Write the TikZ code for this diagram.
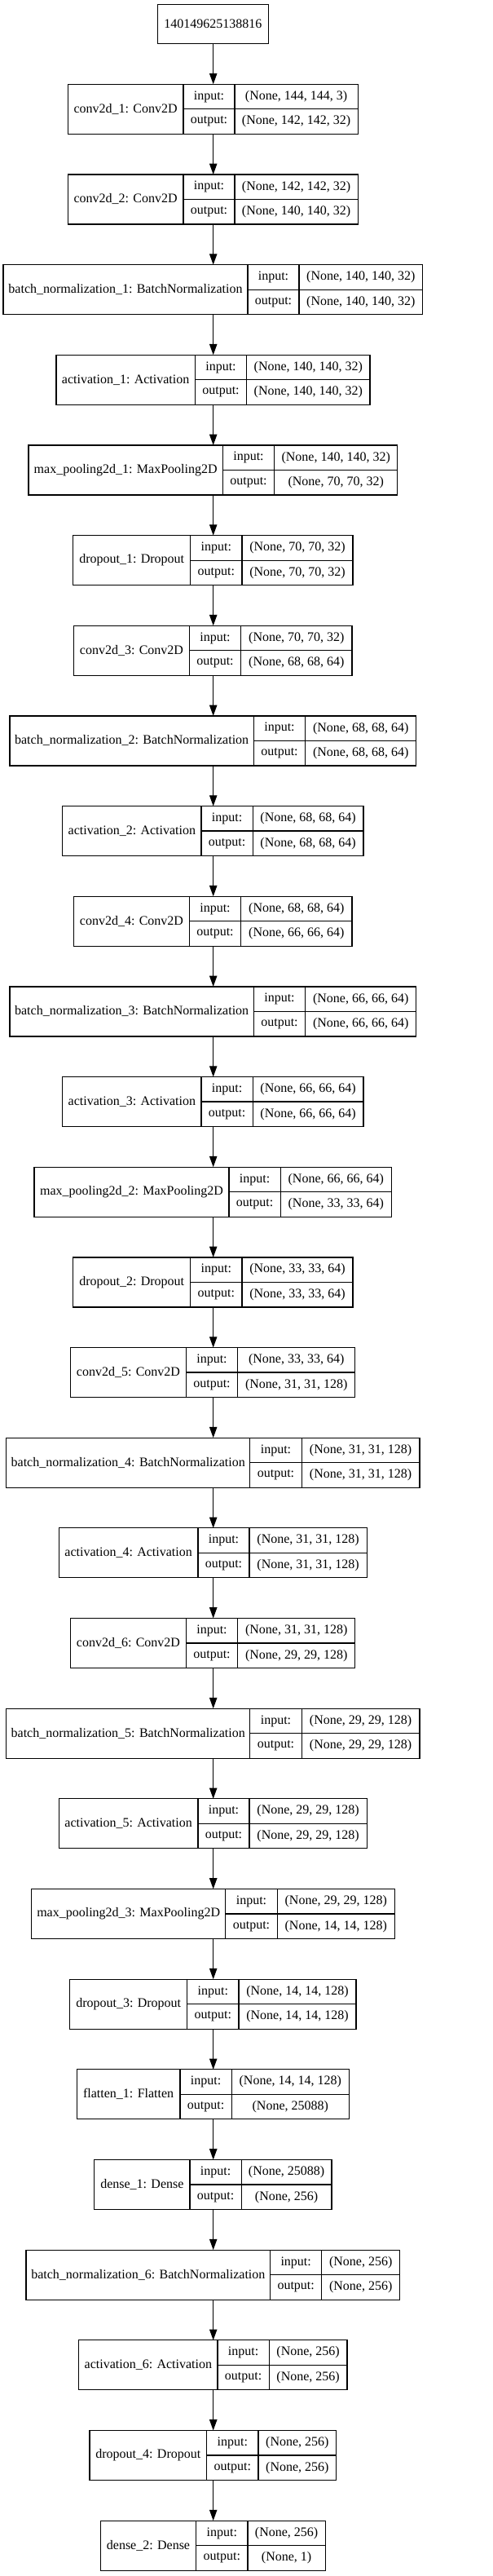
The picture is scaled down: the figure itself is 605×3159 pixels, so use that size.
\documentclass[tikz,border=0pt]{standalone}
\usepackage{fontspec}
\setmainfont{Liberation Serif}
\usetikzlibrary{arrows.meta}
\tikzset{
  box/.style={draw=black, line width=1.2pt, inner sep=0pt, outer sep=0pt},
  txt/.style={inner sep=0pt, outer sep=0pt, font=\fontsize{16}{19}\selectfont, text=black},
  div/.style={draw=black, line width=1.2pt},
  arr/.style={draw=black, line width=1.2pt, -{Triangle[length=13.3pt,width=9.3pt]}}
}
\newcommand\klayer[9]{%
  \pgfmathsetmacro\yt{103.3+(#2-1)*110.66}%
  \pgfmathsetmacro\ym{\yt+30.5}%
  \pgfmathsetmacro\yq{\yt+15.25}%
  \pgfmathsetmacro\yr{\yt+45.75}%
  \node[box, minimum width={#6-#3}, minimum height=61] (#1) at ({(#3+#6)/2},\ym) {};
  \node[txt, minimum width={#4-#3}, minimum height=61] (#1n) at ({(#3+#4)/2},\ym) {#7};
  \node[txt, minimum width={#5-#4}, minimum height=30.5] (#1il) at ({(#4+#5)/2},\yq) {input:};
  \node[txt, minimum width={#5-#4}, minimum height=30.5] (#1ol) at ({(#4+#5)/2},\yr) {output:};
  \node[txt, minimum width={#6-#5}, minimum height=30.5] (#1iv) at ({(#5+#6)/2},\yq) {#8};
  \node[txt, minimum width={#6-#5}, minimum height=30.5] (#1ov) at ({(#5+#6)/2},\yr) {#9};
  \draw[div] (#1il.north west) -- (#1ol.south west);
  \draw[div] (#1iv.north west) -- (#1ov.south west);
  \draw[div] (#1il.south west) -- (#1iv.south east);
}
\begin{document}
\begin{tikzpicture}[x=1pt,y=-1pt]
\useasboundingbox[fill=white] (0,0) rectangle (605,3159);
\coordinate (spine) at (261.7,0);
\node[box, txt, draw=black, line width=1.2pt, minimum width=136, minimum height=48] (top) at (261.3,29.7) {140149625138816};
\klayer{c1}{1}{83.3}{225}{288}{439.3}{conv2d\_1: Conv2D}{(None, 144, 144, 3)}{(None, 142, 142, 32)}
\klayer{c2}{2}{83.3}{225}{288}{439.3}{conv2d\_2: Conv2D}{(None, 142, 142, 32)}{(None, 140, 140, 32)}
\klayer{b1}{3}{4}{304}{367}{518.7}{batch\_normalization\_1: BatchNormalization}{(None, 140, 140, 32)}{(None, 140, 140, 32)}
\klayer{a1}{4}{69}{239.3}{302.7}{454}{activation\_1: Activation}{(None, 140, 140, 32)}{(None, 140, 140, 32)}
\klayer{m1}{5}{35}{273.3}{336.7}{487.7}{max\_pooling2d\_1: MaxPooling2D}{(None, 140, 140, 32)}{(None, 70, 70, 32)}
\klayer{d1}{6}{89.7}{233.7}{297}{433}{dropout\_1: Dropout}{(None, 70, 70, 32)}{(None, 70, 70, 32)}
\klayer{c3}{7}{90.7}{232.3}{295.7}{432}{conv2d\_3: Conv2D}{(None, 70, 70, 32)}{(None, 68, 68, 64)}
\klayer{b2}{8}{12}{311.3}{374.7}{510.7}{batch\_normalization\_2: BatchNormalization}{(None, 68, 68, 64)}{(None, 68, 68, 64)}
\klayer{a2}{9}{76.7}{247}{310.3}{446}{activation\_2: Activation}{(None, 68, 68, 64)}{(None, 68, 68, 64)}
\klayer{c4}{10}{90.7}{232.3}{295.7}{432}{conv2d\_4: Conv2D}{(None, 68, 68, 64)}{(None, 66, 66, 64)}
\klayer{b3}{11}{12}{311.3}{374.7}{510.7}{batch\_normalization\_3: BatchNormalization}{(None, 66, 66, 64)}{(None, 66, 66, 64)}
\klayer{a3}{12}{76.7}{247}{310.3}{446}{activation\_3: Activation}{(None, 66, 66, 64)}{(None, 66, 66, 64)}
\klayer{m2}{13}{42}{281}{344.3}{480.3}{max\_pooling2d\_2: MaxPooling2D}{(None, 66, 66, 64)}{(None, 33, 33, 64)}
\klayer{d2}{14}{89.7}{233.7}{297}{433}{dropout\_2: Dropout}{(None, 33, 33, 64)}{(None, 33, 33, 64)}
\klayer{c5}{15}{86.7}{228.3}{291.7}{435.7}{conv2d\_5: Conv2D}{(None, 33, 33, 64)}{(None, 31, 31, 128)}
\klayer{b4}{16}{7.7}{306.7}{370.3}{515}{batch\_normalization\_4: BatchNormalization}{(None, 31, 31, 128)}{(None, 31, 31, 128)}
\klayer{a4}{17}{72.3}{243}{306}{450.3}{activation\_4: Activation}{(None, 31, 31, 128)}{(None, 31, 31, 128)}
\klayer{c6}{18}{86.7}{228.3}{291.7}{435.7}{conv2d\_6: Conv2D}{(None, 31, 31, 128)}{(None, 29, 29, 128)}
\klayer{b5}{19}{7.7}{306.7}{370.3}{515}{batch\_normalization\_5: BatchNormalization}{(None, 29, 29, 128)}{(None, 29, 29, 128)}
\klayer{a5}{20}{72.3}{243}{306}{450.3}{activation\_5: Activation}{(None, 29, 29, 128)}{(None, 29, 29, 128)}
\klayer{m3}{21}{38.7}{276.7}{340.3}{484.3}{max\_pooling2d\_3: MaxPooling2D}{(None, 29, 29, 128)}{(None, 14, 14, 128)}
\klayer{d3}{22}{85.7}{229.7}{293}{437}{dropout\_3: Dropout}{(None, 14, 14, 128)}{(None, 14, 14, 128)}
\klayer{f1}{23}{94.3}{221}{284.3}{428.3}{flatten\_1: Flatten}{(None, 14, 14, 128)}{(None, 25088)}
\klayer{e1}{24}{115.7}{233}{296.3}{407}{dense\_1: Dense}{(None, 25088)}{(None, 256)}
\klayer{b6}{25}{32}{331.7}{394.7}{490.7}{batch\_normalization\_6: BatchNormalization}{(None, 256)}{(None, 256)}
\klayer{a6}{26}{96.7}{267}{330.3}{426}{activation\_6: Activation}{(None, 256)}{(None, 256)}
\klayer{d4}{27}{110}{253.7}{317}{412.7}{dropout\_4: Dropout}{(None, 256)}{(None, 256)}
\klayer{e2}{28}{123.3}{240.7}{304}{399.3}{dense\_2: Dense}{(None, 256)}{(None, 1)}
\foreach \p/\n in {top/c1,c1/c2,c2/b1,b1/a1,a1/m1,m1/d1,d1/c3,c3/b2,b2/a2,a2/c4,c4/b3,b3/a3,a3/m2,m2/d2,d2/c5,c5/b4,b4/a4,a4/c6,c6/b5,b5/a5,a5/m3,m3/d3,d3/f1,f1/e1,e1/b6,b6/a6,a6/d4,d4/e2}
  \draw[arr] (\p.south -| spine) -- (\n.north -| spine);
\end{tikzpicture}
\end{document}
